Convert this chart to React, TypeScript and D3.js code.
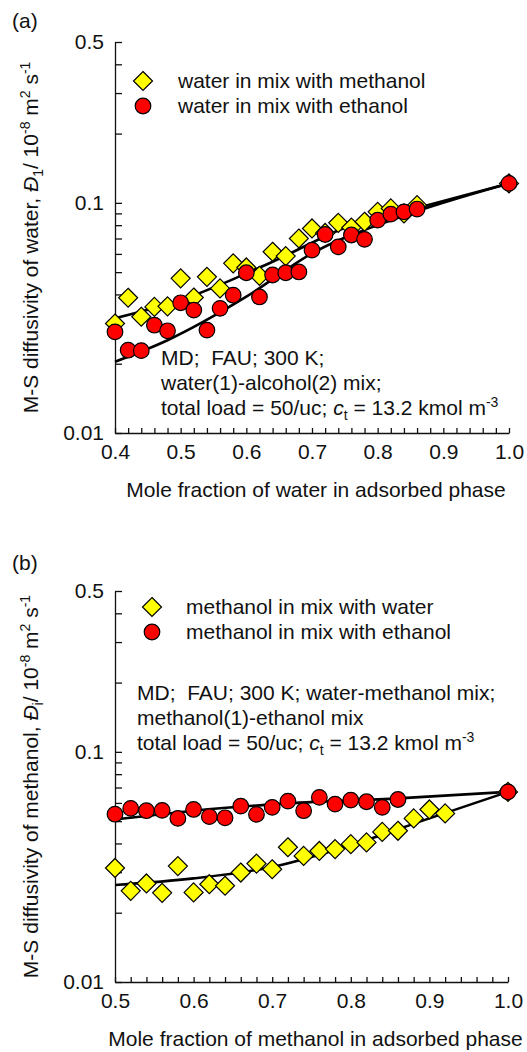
import { useEffect, useRef } from "react";
import * as d3 from "d3";

// panel (a): water diffusivity vs mole fraction of water
const waterX = [0.4, 0.42, 0.44, 0.46, 0.48, 0.5, 0.52, 0.54, 0.56, 0.58, 0.6, 0.62, 0.64, 0.66, 0.68, 0.7, 0.72, 0.74, 0.76, 0.78, 0.8, 0.82, 0.84, 0.86, 1.0];
const waterWithMethanol = [0.0299, 0.0387, 0.032, 0.0353, 0.0355, 0.047, 0.0388, 0.0477, 0.0425, 0.0546, 0.0524, 0.0482, 0.0613, 0.0587, 0.07, 0.0774, 0.074, 0.0819, 0.0781, 0.0828, 0.0914, 0.0946, 0.09, 0.0977, 0.1215];
const waterWithEthanol = [0.0275, 0.0229, 0.0228, 0.0294, 0.0278, 0.0368, 0.0342, 0.028, 0.0348, 0.0397, 0.0497, 0.039, 0.0486, 0.0497, 0.0501, 0.0623, 0.0729, 0.0644, 0.0725, 0.0694, 0.0841, 0.0893, 0.0914, 0.094, 0.1215];
const fitWaterMethX = [0.4, 0.5, 0.64, 0.76, 0.86, 1.0];
const fitWaterMeth = [0.0315, 0.0378, 0.0555, 0.08, 0.095, 0.1215];
const fitWaterEthX = [0.4, 0.48, 0.6, 0.7, 0.83, 1.0];
const fitWaterEth = [0.0204, 0.0253, 0.0391, 0.0603, 0.086, 0.1215];

// panel (b): methanol diffusivity vs mole fraction of methanol
const methWaterX = [0.5, 0.52, 0.54, 0.56, 0.58, 0.6, 0.62, 0.64, 0.66, 0.68, 0.7, 0.72, 0.74, 0.76, 0.78, 0.8, 0.82, 0.84, 0.86, 0.88, 0.9, 0.92, 1.0];
const methanolWithWater = [0.0313, 0.0249, 0.0268, 0.0244, 0.0319, 0.0245, 0.0266, 0.0262, 0.0299, 0.0327, 0.0309, 0.0385, 0.0353, 0.0371, 0.0378, 0.0397, 0.0404, 0.0449, 0.0454, 0.0514, 0.0562, 0.054, 0.067];
const methEthX = [0.5, 0.52, 0.54, 0.56, 0.58, 0.6, 0.62, 0.64, 0.66, 0.68, 0.7, 0.72, 0.74, 0.76, 0.78, 0.8, 0.82, 0.84, 0.86, 1.0];
const methanolWithEthanol = [0.0536, 0.0568, 0.0555, 0.0557, 0.0514, 0.0562, 0.0523, 0.0517, 0.0581, 0.0535, 0.0574, 0.0611, 0.0555, 0.0634, 0.0593, 0.0617, 0.0607, 0.0574, 0.0621, 0.067];
const fitMethWaterX = [0.5, 0.6, 0.7, 0.8, 0.9, 1.0];
const fitMethWater = [0.0264, 0.0282, 0.0316, 0.0393, 0.0514, 0.067];
const fitMethEthX = [0.5, 0.6, 0.72, 0.86, 1.0];
const fitMethEth = [0.0508, 0.0555, 0.0597, 0.0628, 0.067];

const yMajor = [0.01, 0.1, 0.5];
const yMinor = [0.02, 0.03, 0.04, 0.05, 0.06, 0.07, 0.08, 0.09, 0.2, 0.3, 0.4];

const FONT = "'Liberation Sans', Arial, Helvetica, sans-serif";
const FS = "21px";

function zip(xs, ys) {
  return xs.map((x, i) => ({ x, y: ys[i] }));
}

function drawPanel(svg, p) {
  const x = d3.scaleLinear().domain(p.xDomain).range([p.left, p.right]);
  const y = d3.scaleLog().domain([0.01, 0.5]).range([p.bottom, p.top]);
  const g = svg.append("g").style("font-family", FONT);

  // axes (ticks pointing inward)
  const xTicks = d3.range(Math.round(p.xDomain[0] * 50), Math.round(p.xDomain[1] * 50) + 1).map((d) => d / 50);
  const xAxis = g
    .append("g")
    .attr("transform", `translate(0,${p.bottom})`)
    .call(
      d3.axisBottom(x)
        .tickValues(xTicks)
        .tickSize(-5)
        .tickSizeOuter(0)
        .tickPadding(11)
        .tickFormat((d) => (Math.round(d * 50) % 5 === 0 ? d3.format(".1f")(d) : ""))
    );
  xAxis.selectAll("text").style("font-size", FS).style("font-family", FONT).attr("fill", "#111");
  xAxis.selectAll("line,path").attr("stroke", "#111").attr("stroke-width", 1.3);

  const yAxis = g
    .append("g")
    .attr("transform", `translate(${p.left},0)`)
    .call(
      d3.axisLeft(y)
        .tickValues([...yMajor, ...yMinor])
        .tickSize(-7)
        .tickSizeOuter(0)
        .tickPadding(11)
        .tickFormat((d) => (yMajor.includes(d) ? String(d) : ""))
    );
  yAxis.selectAll("text").style("font-size", FS).style("font-family", FONT).attr("fill", "#111");
  yAxis.selectAll("line,path").attr("stroke", "#111").attr("stroke-width", 1.3);

  // fitted curves
  const line = d3
    .line()
    .x((d) => x(d.x))
    .y((d) => y(d.y))
    .curve(d3.curveMonotoneX);
  p.fits.forEach((f) => {
    g.append("path")
      .datum(f)
      .attr("fill", "none")
      .attr("stroke", "#000")
      .attr("stroke-width", 2.6)
      .attr("d", line);
  });

  const diamond = (cx, cy) => `M${cx},${cy - 9.5}L${cx + 9.5},${cy}L${cx},${cy + 9.5}L${cx - 9.5},${cy}Z`;

  // yellow diamonds
  g.append("g")
    .selectAll("path")
    .data(p.diamonds)
    .join("path")
    .attr("d", (d) => diamond(x(d.x), y(d.y)))
    .attr("fill", "#ffff00")
    .attr("stroke", "#000")
    .attr("stroke-width", 1.2);

  // red circles
  g.append("g")
    .selectAll("circle")
    .data(p.circles)
    .join("circle")
    .attr("cx", (d) => x(d.x))
    .attr("cy", (d) => y(d.y))
    .attr("r", 7.8)
    .attr("fill", "#ff0000")
    .attr("stroke", "#000")
    .attr("stroke-width", 1.2);

  // legend
  const lg = p.legend;
  g.append("path").attr("d", diamond(lg.x, lg.y)).attr("fill", "#ffff00").attr("stroke", "#000").attr("stroke-width", 1.2);
  g.append("circle").attr("cx", lg.x).attr("cy", lg.y + 25).attr("r", 7.8).attr("fill", "#ff0000").attr("stroke", "#000").attr("stroke-width", 1.2);
  lg.labels.forEach((t, i) => {
    g.append("text").attr("x", lg.tx).attr("y", lg.y + 7 + i * 25).style("font-size", FS).attr("fill", "#111").text(t);
  });

  // annotation
  const an = p.note;
  an.lines.forEach((t, i) => {
    g.append("text")
      .attr("x", an.x)
      .attr("y", an.y + i * 25)
      .style("font-size", FS)
      .style("white-space", "pre")
      .attr("fill", "#111")
      .text(t);
  });
  const last = g.append("text").attr("x", an.x).attr("y", an.y + an.lines.length * 25).style("font-size", FS).attr("fill", "#111");
  last.append("tspan").text("total load = 50/uc; ");
  last.append("tspan").style("font-style", "italic").text("c");
  last.append("tspan").attr("dy", 5).style("font-size", "14px").text("t");
  last.append("tspan").attr("dy", -5).text(" = 13.2 kmol m");
  last.append("tspan").attr("dy", -8).style("font-size", "14px").text("-3");

  // axis titles
  g.append("text")
    .attr("x", (p.left + p.right) / 2 + 4)
    .attr("y", p.bottom + 64)
    .attr("text-anchor", "middle")
    .style("font-size", FS)
    .attr("fill", "#111")
    .text(p.xTitle);

  const yt = g
    .append("text")
    .attr("transform", `translate(38,${(p.top + p.bottom) / 2}) rotate(-90)`)
    .attr("text-anchor", "middle")
    .style("font-size", FS)
    .attr("fill", "#111");
  yt.append("tspan").text(p.yTitle);
  yt.append("tspan").style("font-style", "italic").text("Đ");
  yt.append("tspan").attr("dy", 5).style("font-size", "14px").text(p.ySub);
  yt.append("tspan").attr("dy", -5).text("/ 10");
  yt.append("tspan").attr("dy", -8).style("font-size", "14px").text("-8");
  yt.append("tspan").attr("dy", 8).text(" m");
  yt.append("tspan").attr("dy", -8).style("font-size", "14px").text("2");
  yt.append("tspan").attr("dy", 8).text(" s");
  yt.append("tspan").attr("dy", -8).style("font-size", "14px").text("-1");

  // panel label
  g.append("text").attr("x", 12).attr("y", p.labelY).style("font-size", FS).attr("fill", "#111").text(p.label);
}

export default function App() {
  const ref = useRef(null);

  useEffect(() => {
    const svg = d3.select(ref.current);
    svg.selectAll("*").remove();

    drawPanel(svg, {
      label: "(a)",
      labelY: 28,
      xDomain: [0.4, 1.0],
      left: 115,
      right: 509,
      top: 42,
      bottom: 433,
      fits: [zip(fitWaterMethX, fitWaterMeth), zip(fitWaterEthX, fitWaterEth)],
      diamonds: zip(waterX, waterWithMethanol),
      circles: zip(waterX, waterWithEthanol),
      legend: { x: 143, y: 81, tx: 178, labels: ["water in mix with methanol", "water in mix with ethanol"] },
      note: { x: 161, y: 365, lines: ["MD;  FAU; 300 K;", "water(1)-alcohol(2) mix;"] },
      xTitle: "Mole fraction of water in adsorbed phase",
      yTitle: "M-S diffusivity of water, ",
      ySub: "1",
    });

    drawPanel(svg, {
      label: "(b)",
      labelY: 570,
      xDomain: [0.5, 1.0],
      left: 115,
      right: 508,
      top: 591,
      bottom: 982,
      fits: [zip(fitMethWaterX, fitMethWater), zip(fitMethEthX, fitMethEth)],
      diamonds: zip(methWaterX, methanolWithWater),
      circles: zip(methEthX, methanolWithEthanol),
      legend: { x: 152, y: 607, tx: 186, labels: ["methanol in mix with water", "methanol in mix with ethanol"] },
      note: { x: 137, y: 700, lines: ["MD;  FAU; 300 K; water-methanol mix;", "methanol(1)-ethanol mix"] },
      xTitle: "Mole fraction of methanol in adsorbed phase",
      yTitle: "M-S diffusivity of methanol, ",
      ySub: "i",
    });
  }, []);

  return (
    <div style={{ position: "absolute", left: 0, top: 0 }}>
      <svg ref={ref} width={527} height={1052} style={{ display: "block", background: "#fff" }}></svg>
    </div>
  );
}
